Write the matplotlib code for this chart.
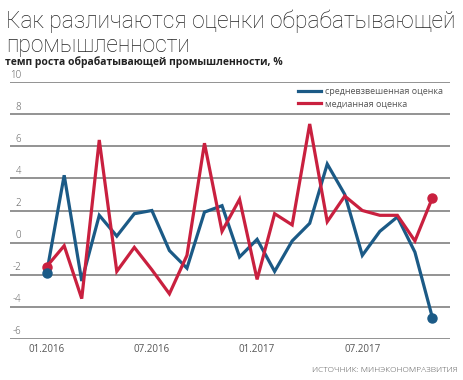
import numpy as np
import matplotlib
matplotlib.use("Agg")
import matplotlib.pyplot as plt
import matplotlib.transforms as mtransforms

# monthly data, 01.2016 .. 11.2017
months = ["01.2016", "02.2016", "03.2016", "04.2016", "05.2016", "06.2016",
          "07.2016", "08.2016", "09.2016", "10.2016", "11.2016", "12.2016",
          "01.2017", "02.2017", "03.2017", "04.2017", "05.2017", "06.2017",
          "07.2017", "08.2017", "09.2017", "10.2017", "11.2017"]
weighted = [-1.9, 4.2, -2.4, 1.7, 0.4, 1.8, 2.0, -0.5, -1.6, 1.9, 2.3, -0.9,
            0.2, -1.8, 0.1, 1.2, 4.9, 3.0, -0.8, 0.7, 1.6, -0.6, -4.7]
median = [-1.5, -0.2, -3.5, 6.4, -1.8, -0.3, -1.7, -3.2, -0.8, 6.2, 0.7, 2.7,
          -2.3, 1.8, 1.1, 7.4, 1.3, 2.9, 2.0, 1.7, 1.7, 0.1, 2.8]
xtick_labels = ["01.2016", "07.2016", "01.2017", "07.2017"]
yticks = [-6, -4, -2, 0, 2, 4, 6, 8, 10]

blue = "#1b5a86"
red = "#c9203f"
grid_col = "#808080"
txt_col = "#555555"

plt.rcParams['font.family'] = ['Open Sans', 'DejaVu Sans']

fig = plt.figure(figsize=(4.63, 3.80), dpi=100)
fig.patch.set_facecolor("white")
ax = fig.add_axes([10 / 463, 1 - 338.7 / 380, 440 / 463, (338.7 - 82.3) / 380])

x = np.arange(len(months))
ax.plot(x, weighted, color=blue, lw=2.3, label="средневзвешенная оценка",
        solid_joinstyle="miter", zorder=3)
ax.plot(x, median, color=red, lw=2.3, label="медианная оценка",
        solid_joinstyle="miter", zorder=3)
ax.plot([x[0]], [median[0]], "o", color=red, ms=6.5, zorder=4)
ax.plot([x[0]], [weighted[0]], "o", color=blue, ms=6.5, zorder=4)
ax.plot([x[-1]], [median[-1]], "o", color=red, ms=6.5, zorder=4)
ax.plot([x[-1]], [weighted[-1]], "o", color=blue, ms=6.5, zorder=4)

ax.set_xlim(-2.09, 23.0)
ax.set_ylim(-6, 10)
for y in yticks:
    ax.axhline(y, color=grid_col, lw=1.2, zorder=1)
for s in ax.spines.values():
    s.set_visible(False)
ax.set_yticks([])

# y labels sit just above the gridlines
off = mtransforms.offset_copy(ax.transData, fig=fig, x=0, y=1, units="points")
blend = mtransforms.blended_transform_factory(ax.transAxes, off)
for y in yticks:
    ax.text(0.025, y, str(y), transform=blend, ha="right", va="bottom",
            fontsize=7, color=txt_col, fontweight="light")

ax.set_xticks([months.index(m) for m in xtick_labels])
ax.set_xticklabels(xtick_labels)
ax.tick_params(axis="x", length=0, pad=4, labelsize=7, labelcolor=txt_col)

leg = ax.legend(loc="upper right", bbox_to_anchor=(0.995, 1.0), frameon=False,
                fontsize=6.5, handlelength=2.6, handletextpad=0.4,
                labelspacing=0.35, borderaxespad=0.15)
for t in leg.get_texts():
    t.set_color(txt_col)

renderer = fig.canvas.get_renderer()


def fit_text(t, width_px):
    # shrink/grow font so the text spans the given width
    w = t.get_window_extent(renderer).width
    t.set_fontsize(t.get_fontsize() * width_px / w)


t1 = fig.text(6 / 463, 1 - 28 / 380, "Как различаются оценки обрабатывающей",
              fontsize=17, fontweight="light", color="#222222", va="baseline",
              family=["Roboto", "DejaVu Sans"])
t2 = fig.text(6 / 463, 1 - 52 / 380, "промышленности",
              fontsize=17, fontweight="light", color="#222222", va="baseline",
              family=["Roboto", "DejaVu Sans"])
fit_text(t1, 449)
t2.set_fontsize(t1.get_fontsize())
t3 = fig.text(5 / 463, 1 - 65 / 380, "темп роста обрабатывающей промышленности, %",
              fontsize=7.8, fontweight="bold", color="#222222", va="baseline")
fit_text(t3, 281)
fig.text(457 / 463, 1 - 372 / 380, "ИСТОЧНИК: МИНЭКОНОМРАЗВИТИЯ",
         fontsize=6, color=txt_col, ha="right", va="baseline",
         fontweight="light")

fig.savefig("out.png", dpi=100)
